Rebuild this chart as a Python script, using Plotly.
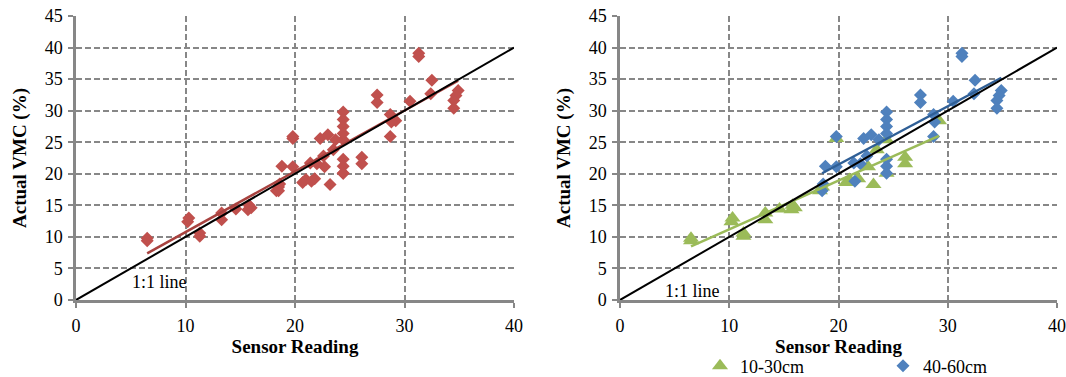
import numpy as np
import plotly.graph_objects as go

# ---- data: sensor reading vs actual VMC (%) ----
shallow_x = [6.5, 6.5, 10.2, 10.3, 11.3, 11.3, 13.3, 13.3, 14.6, 15.7, 16.0, 15.8,
             18.3, 18.5, 20.7, 21.0, 21.8, 22.7, 23.2, 23.5, 24.4, 26.1, 26.1, 29.2,
             19.8, 24.4]
shallow_y = [9.4, 9.8, 12.4, 13.0, 10.1, 10.6, 12.7, 13.8, 14.4, 14.3, 14.6, 15.0,
             17.3, 17.9, 18.6, 19.1, 19.2, 21.1, 18.3, 23.8, 20.1, 22.6, 21.6, 28.4,
             25.6, 25.4]

deep_x = [18.5, 18.6, 18.8, 19.8, 19.8, 21.5, 21.4, 22.0, 22.3, 23.0, 23.7, 22.6,
          24.4, 24.4, 24.4, 24.4, 24.4, 24.4, 24.4, 27.5, 27.5, 28.7, 28.8, 28.7,
          30.5, 31.3, 31.3, 32.5, 32.4, 34.9, 34.7, 34.5, 34.5]
deep_y = [17.3, 18.4, 21.2, 21.1, 25.9, 18.8, 21.7, 21.6, 25.6, 26.2, 25.4, 22.8,
          29.8, 28.6, 27.5, 26.4, 22.3, 21.2, 20.1, 32.5, 31.3, 29.4, 28.2, 25.9,
          31.5, 39.1, 38.6, 34.8, 32.7, 33.2, 32.4, 31.6, 30.4]

all_x = shallow_x + deep_x
all_y = shallow_y + deep_y

one_to_one = [0, 40]
x_ticks = [0, 10, 20, 30, 40]
y_ticks = [0, 5, 10, 15, 20, 25, 30, 35, 40, 45]
series_names = ["10-30cm", "40-60cm"]

RED = "#C0504D"
RED_LINE = "#A8423F"
GREEN = "#9BBB59"
GREEN_LINE = "#9BBB59"
BLUE = "#4F81BD"
BLUE_LINE = "#2F5F96"
GRID = "#878787"
FONT = "Liberation Serif, Times New Roman, serif"


def fit_line(xs, ys):
    m, b = np.polyfit(xs, ys, 1)
    xx = [min(xs), max(xs)]
    return xx, [m * v + b for v in xx]


fig = go.Figure()

# ---- left panel: all data ----
fig.add_trace(go.Scatter(x=all_x, y=all_y, mode="markers", xaxis="x", yaxis="y",
                         marker=dict(symbol="diamond", size=10, color=RED),
                         showlegend=False))
fx, fy = fit_line(all_x, all_y)
fig.add_trace(go.Scatter(x=fx, y=fy, mode="lines", xaxis="x", yaxis="y",
                         line=dict(color=RED_LINE, width=2.5), showlegend=False))
fig.add_trace(go.Scatter(x=one_to_one, y=one_to_one, mode="lines", xaxis="x", yaxis="y",
                         line=dict(color="black", width=2), showlegend=False))

# ---- right panel: split by depth ----
fig.add_trace(go.Scatter(x=shallow_x, y=shallow_y, mode="markers", xaxis="x2", yaxis="y2",
                         name=series_names[0], legend="legend",
                         marker=dict(symbol="triangle-up", size=14, color=GREEN)))
fig.add_trace(go.Scatter(x=deep_x, y=deep_y, mode="markers", xaxis="x2", yaxis="y2",
                         name=series_names[1], legend="legend2",
                         marker=dict(symbol="diamond", size=10, color=BLUE)))
gx, gy = fit_line(shallow_x, shallow_y)
fig.add_trace(go.Scatter(x=gx, y=gy, mode="lines", xaxis="x2", yaxis="y2",
                         line=dict(color=GREEN_LINE, width=2.5), showlegend=False))
bx, by = fit_line(deep_x, deep_y)
fig.add_trace(go.Scatter(x=bx, y=by, mode="lines", xaxis="x2", yaxis="y2",
                         line=dict(color=BLUE_LINE, width=2.5), showlegend=False))
fig.add_trace(go.Scatter(x=one_to_one, y=one_to_one, mode="lines", xaxis="x2", yaxis="y2",
                         line=dict(color="black", width=2), showlegend=False))

W, H = 1066, 377
ybot = (H - 300) / H
ytop = (H - 16) / H

axis_common = dict(
    showline=True, linecolor=GRID, linewidth=2.5, mirror=False,
    showgrid=True, gridcolor=GRID, gridwidth=2, griddash="6px,3px",
    zeroline=False, ticks="outside", ticklen=5, tickwidth=2, tickcolor=GRID,
    tickfont=dict(family=FONT, size=18, color="black"),
)

xcommon = dict(axis_common, range=[0, 40], tickvals=x_ticks, ticklabelstandoff=3,
               title=dict(text="<b>Sensor Reading</b>", standoff=0,
                          font=dict(family=FONT, size=19, color="black")))
ycommon = dict(axis_common, range=[0, 45], tickvals=y_ticks, ticklabelstandoff=2,
               title=dict(text="<b>Actual VMC (%)</b>", standoff=14,
                          font=dict(family=FONT, size=19, color="black")))

leg_common = dict(orientation="h", xanchor="left", y=(H - 366) / H, yanchor="middle",
                  font=dict(family=FONT, size=18, color="black"),
                  bgcolor="rgba(0,0,0,0)", itemclick=False, borderwidth=0,
                  itemwidth=30, tracegroupgap=0)

fig.update_layout(
    width=W, height=H,
    margin=dict(l=0, r=0, t=0, b=0, autoexpand=False),
    paper_bgcolor="white", plot_bgcolor="white",
    xaxis=dict(xcommon, domain=[76 / W, 514 / W], anchor="y"),
    yaxis=dict(ycommon, domain=[ybot, ytop], anchor="x"),
    xaxis2=dict(xcommon, domain=[620 / W, 1057 / W], anchor="y2"),
    yaxis2=dict(ycommon, domain=[ybot, ytop], anchor="x2"),
    legend=dict(leg_common, x=700 / W),
    legend2=dict(leg_common, x=883 / W),
    annotations=[
        dict(text="1:1 line", x=7.6, y=2.9, xref="x", yref="y", showarrow=False,
             font=dict(family=FONT, size=18, color="black")),
        dict(text="1:1 line", x=6.6, y=1.4, xref="x2", yref="y2", showarrow=False,
             font=dict(family=FONT, size=18, color="black")),
    ],
)

fig.write_html("out.html")
